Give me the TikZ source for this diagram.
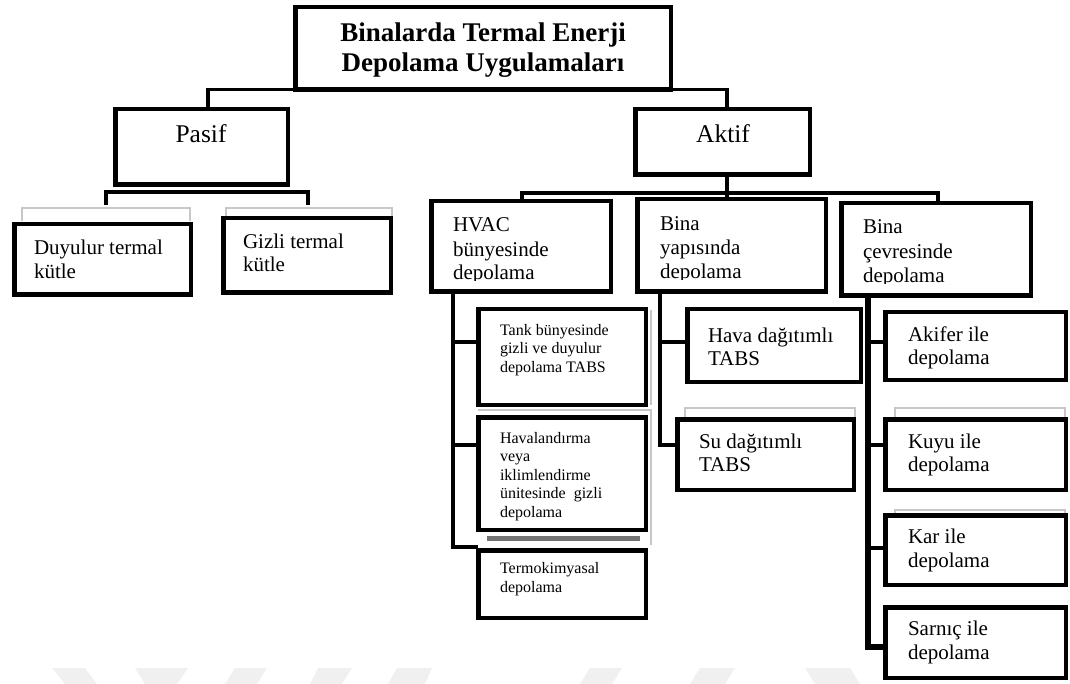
\documentclass[tikz,border=0pt]{standalone}
\usepackage{fontspec}
\setmainfont{Liberation Serif}
\newcommand{\mkbox}[5]{\node[box, minimum width={(#4-#2-4.5)*1pt}, minimum height={(#5-#3-4.5)*1pt}] (#1) at ({(#2+#4)/2},{(#3+#5)/2}) {};}
\begin{document}
\begin{tikzpicture}[x=1pt,y=-1pt,
  box/.style={draw=black, line width=4.5pt, inner sep=0pt, outer sep=0pt, rectangle},
  conn/.style={draw=black, line width=3.5pt, line join=miter},
  thickconn/.style={conn, line width=6pt},
  ghost/.style={draw=black!22, line width=1.5pt},
  lbl/.style={inner sep=0pt, outer sep=0pt, align=left, anchor=base west},
  fA/.style={font=\fontsize{21}{23.5}\selectfont},
  fB/.style={font=\fontsize{16}{18.5}\selectfont},
  wm/.style={fill=black!6, draw=none}]
\useasboundingbox (0,0) rectangle (1070,684);

% faint watermark at the bottom
\fill[wm] (52,668) -- (85,668) -- (97,684) -- (65,684) -- cycle;
\fill[wm] (135,668) -- (188,668) -- (177,684) -- (145,684) -- cycle;
\fill[wm] (235,668) -- (267,668) -- (257,684) -- (225,684) -- cycle;
\fill[wm] (318,668) -- (352,668) -- (342,684) -- (310,684) -- cycle;
\fill[wm] (397,668) -- (432,668) -- (425,684) -- (388,684) -- cycle;
\fill[wm] (590,668) -- (622,668) -- (612,684) -- (580,684) -- cycle;
\fill[wm] (700,668) -- (735,668) -- (725,684) -- (690,684) -- cycle;
\fill[wm] (805,668) -- (850,668) -- (860,684) -- (815,684) -- cycle;

% ghost outlines
\draw[ghost] (22,221) -- (22,208) -- (190,208) -- (190,221);
\draw[ghost] (226,216) -- (226,208) -- (392,208) -- (392,216);
\draw[ghost] (685,417) -- (685,408) -- (855,408) -- (855,417);
\draw[ghost] (895,417) -- (895,408) -- (1065,408) -- (1065,417);
\draw[ghost] (895,513) -- (895,510) -- (1065,510) -- (1065,513);
\draw[ghost] (478,410) -- (651,410) -- (651,545);
\draw[ghost] (651,310) -- (651,405);
\fill[black!55] (487,536) rectangle (640,541);

% texts (anchor base = baseline of the last line)
\node[lbl, font=\bfseries\fontsize{27}{30.5}\selectfont, align=center, anchor=base] (troot) at (483,72) {Binalarda Termal Enerji\\Depolama Uygulamaları};
\node[lbl, font=\fontsize{25.5}{28}\selectfont, anchor=base] (tpasif) at (201,143) {Pasif};
\node[lbl, font=\fontsize{25.5}{28}\selectfont, anchor=base] (taktif) at (723,143) {Aktif};
\node[lbl, fA] (tduy) at (34,278.5) {Duyulur termal\\kütle};
\node[lbl, fA] (tgiz) at (243,272) {Gizli termal\\kütle};
\begin{scope}
\clip (429,199) rectangle (613,281);
\node[lbl, font=\fontsize{21}{24}\selectfont] (thvac) at (453,280) {HVAC\\bünyesinde\\depolama};
\end{scope}
\begin{scope}
\clip (635,197) rectangle (828,280);
\node[lbl, font=\fontsize{21}{24}\selectfont] (tyapi) at (660,279) {Bina\\yapısında\\depolama};
\end{scope}
\begin{scope}
\clip (839,201) rectangle (1033,284);
\node[lbl, font=\fontsize{21}{24.5}\selectfont] (tcev) at (863,283) {Bina\\çevresinde\\depolama};
\end{scope}
\node[lbl, fB] (ttank) at (500,372) {Tank bünyesinde\\gizli ve duyulur\\depolama TABS};
\node[lbl, fB] (thav) at (500,517) {Havalandırma\\veya\\iklimlendirme\\ünitesinde\ \ gizli\\depolama};
\node[lbl, font=\fontsize{16}{19}\selectfont] (ttermo) at (500,592) {Termokimyasal\\depolama};
\node[lbl, fA] (thava) at (708,365.5) {Hava dağıtımlı\\TABS};
\node[lbl, fA] (tsu) at (699,471.5) {Su dağıtımlı\\TABS};
\node[lbl, fA] (takifer) at (908,364.5) {Akifer ile\\depolama};
\node[lbl, fA] (tkuyu) at (908,471.5) {Kuyu ile\\depolama};
\node[lbl, fA] (tkar) at (908,567) {Kar ile\\depolama};
\node[lbl, fA] (tsarnic) at (908,659) {Sarnıç ile\\depolama};

% boxes
\mkbox{root}{293}{5}{673}{92}
\mkbox{pasif}{113}{107}{290}{187}
\mkbox{aktif}{633}{107}{812}{177}
\mkbox{duy}{12}{222}{193}{297}
\mkbox{giz}{221}{216}{393}{295}
\mkbox{hvac}{429}{199}{613}{294}
\mkbox{yapi}{635}{197}{828}{294}
\mkbox{cev}{839}{201}{1033}{298}
\mkbox{tank}{476}{307}{648}{407}
\mkbox{hav}{476}{415}{648}{532}
\mkbox{termo}{476}{548}{648}{620}
\mkbox{hava}{685}{307}{863}{384}
\mkbox{su}{675}{417}{856}{492}
\mkbox{akifer}{883}{310}{1068}{382}
\mkbox{kuyu}{883}{417}{1068}{492}
\mkbox{kar}{883}{513}{1068}{587}
\mkbox{sarnic}{883}{605}{1068}{680}

% helper coordinates
\coordinate (pa) at (208,0);
\coordinate (ak) at (727,0);
\coordinate (pl) at (106,205);
\coordinate (pr) at (308,205);
\coordinate (pb) at (0,192);
\coordinate (bh) at (0,193);
\coordinate (x1) at (522,0);
\coordinate (x2) at (938,0);
\coordinate (hx) at (453,0);
\coordinate (yx) at (660,0);
\coordinate (cx) at (868,0);
\coordinate (y342) at (0,342);
\coordinate (y445) at (0,445);
\coordinate (y547) at (0,547);
\coordinate (y548) at (0,548);
\coordinate (y647) at (0,647);

% connectors
\draw[conn] (root.south west) -| (pasif.north -| pa);
\draw[conn] (root.south east) -| (aktif.north -| ak);
\draw[conn] (pl) |- (pasif.south |- pb) -| (pr);
\draw[conn] (aktif.south -| ak) -- (yapi.north -| ak);
\draw[conn] (hvac.north -| x1) -- (bh -| x1) -- (bh -| x2) -- (cev.north -| x2);
\draw[conn] (hvac.south -| hx) -- (y547 -| hx) -- (y547 -| termo.west);
\draw[conn] (y342 -| hx) -- (y342 -| tank.west);
\draw[conn] (y445 -| hx) -- (y445 -| hav.west);
\draw[conn] (yapi.south -| yx) -- (y445 -| yx) -- (y445 -| su.west);
\draw[conn] (y342 -| yx) -- (y342 -| hava.west);
\draw[thickconn] (cev.south -| cx) -- (y647 -| cx) -- (y647 -| sarnic.west);
\draw[conn] (y342 -| cx) -- (y342 -| akifer.west);
\draw[conn] (y445 -| cx) -- (y445 -| kuyu.west);
\draw[conn] (y548 -| cx) -- (y548 -| kar.west);
\end{tikzpicture}
\end{document}
